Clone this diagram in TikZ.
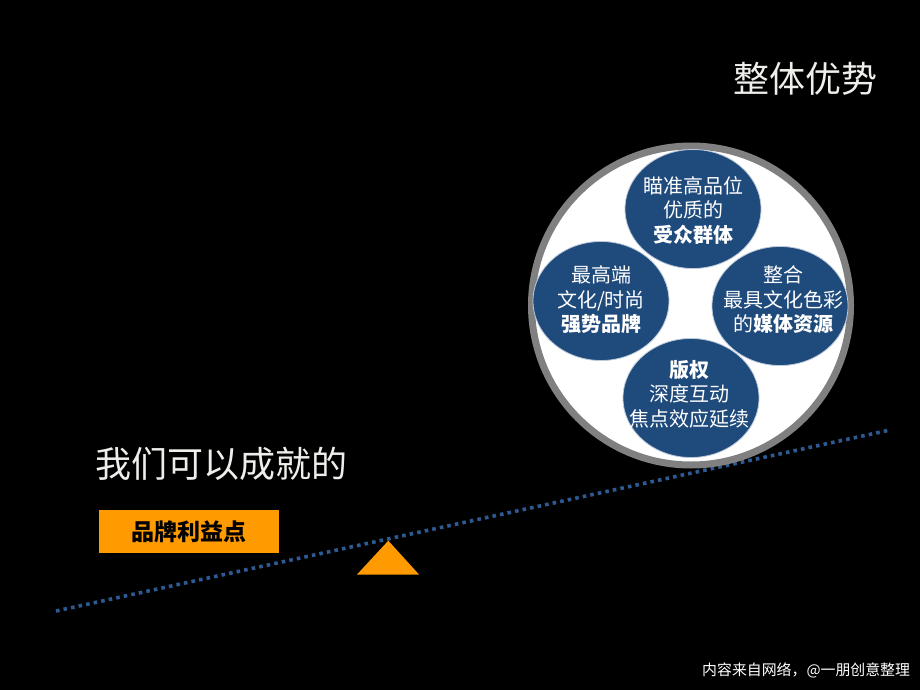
\documentclass[tikz,border=0pt]{standalone}
\usepackage{fontspec}
\usetikzlibrary{shapes.geometric}
\setmainfont{Noto Sans CJK SC}
\definecolor{bub}{HTML}{1F4A7C}
\definecolor{dotc}{HTML}{2E5A93}
\definecolor{orng}{HTML}{FF9B00}
\definecolor{ringc}{HTML}{808080}
\definecolor{txt}{HTML}{EEEEEA}
\begin{document}
\begin{tikzpicture}[x=1pt,y=-1pt,
  bubble/.style={ellipse,fill=bub,draw=white!70!bub,line width=0.8pt,minimum width=136pt,minimum height=119pt,inner sep=0pt},
  btext/.style={text=white,inner sep=0pt,font=\fontsize{20}{24.5}\selectfont,align=center},
  lbl/.style={text=txt,inner sep=0pt,anchor=west}]
\fill[black] (0,0) rectangle (920,690);
\useasboundingbox (0,0) rectangle (920,690);
% lever
\coordinate (l1) at (56,611);
\coordinate (l2) at (890,430);
\draw[dotc,line width=3.6pt,dash pattern=on 3.6pt off 4.1pt] (l1) -- (l2);
% fulcrum
\fill[orng] (357,574.5) -- (388.3,540.7) -- (419,574.5) -- cycle;
% big circle
\node[circle,fill=white,draw=ringc,line width=7pt,minimum size=319pt,inner sep=0pt] (big) at (691,305.5) {};
\node[bubble] (top) at (693,209) {};
\node[bubble] (left) at (601,301) {};
\node[bubble] (right) at (780,306) {};
\node[bubble] (bot) at (691,398) {};
\node[btext] (toptxt) at (693,210) {瞄准高品位\\优质的\\\textbf{受众群体}};
\node[btext] (lefttxt) at (601,300) {最高端\\文化/时尚\\\textbf{强势品牌}};
\node[btext] (righttxt) at (783,300) {整合\\最具文化色彩\\的\textbf{媒体资源}};
\node[btext] (bottxt) at (689,394) {\textbf{版权}\\深度互动\\焦点效应延续};
% titles
\node[lbl,font=\fontsize{36}{40}\selectfont] (t1) at (733,79) {整体优势};
\node[lbl,font=\fontsize{36}{40}\selectfont] (t2) at (95,464) {我们可以成就的};
\node[fill=orng,minimum width=180pt,minimum height=42.5pt,inner sep=0pt,font=\bfseries\fontsize{23}{26}\selectfont,text=black] (box) at (188.5,531.3) {品牌利益点};
\node[lbl,font=\fontsize{14.9}{17}\selectfont,text=white] (foot) at (702,670) {内容来自网络，@一朋创意整理};
\end{tikzpicture}
\end{document}
